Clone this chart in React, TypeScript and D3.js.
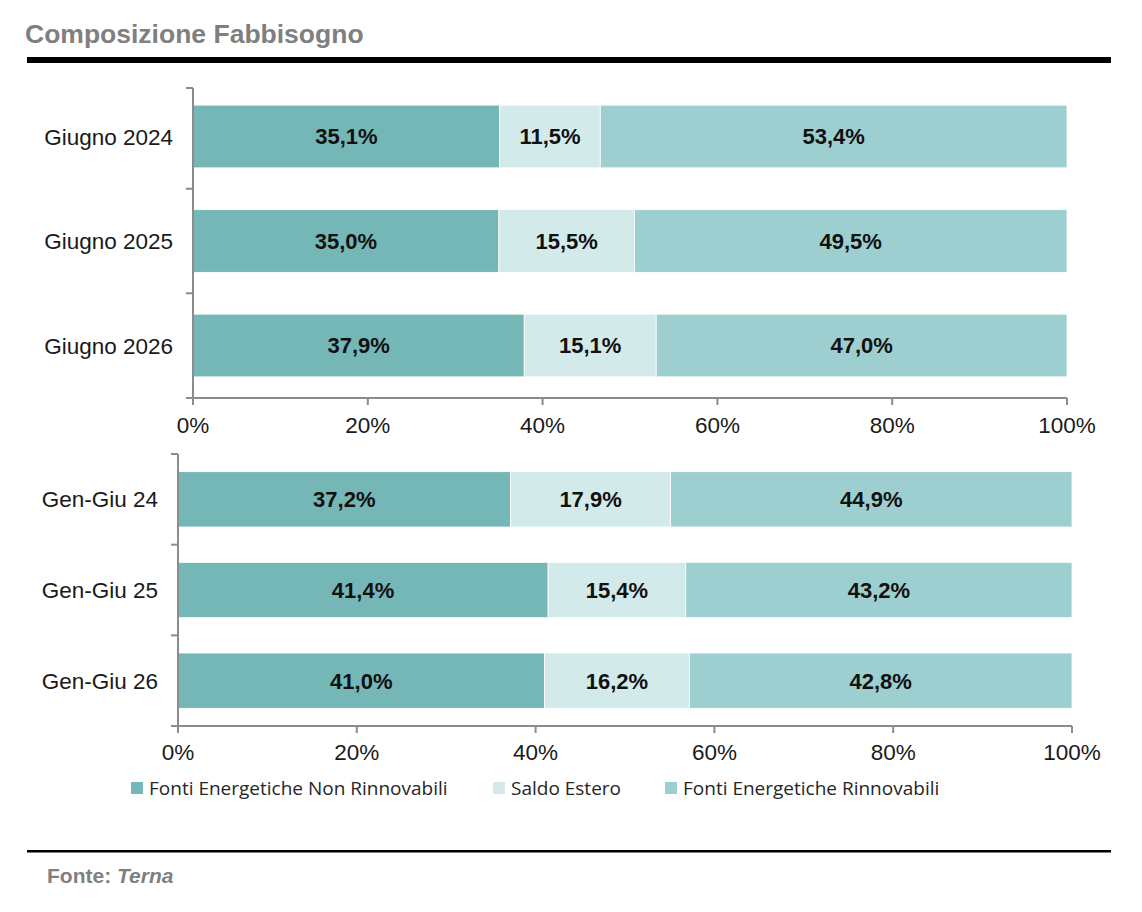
import React from "react";
import * as d3 from "d3";

const topCategories = ["Giugno 2024", "Giugno 2025", "Giugno 2026"];
const topNonRinnovabili = [35.1, 35.0, 37.9];
const topSaldoEstero = [11.5, 15.5, 15.1];
const topRinnovabili = [53.4, 49.5, 47.0];

const bottomCategories = ["Gen-Giu 24", "Gen-Giu 25", "Gen-Giu 26"];
const bottomNonRinnovabili = [37.2, 41.4, 41.0];
const bottomSaldoEstero = [17.9, 15.4, 16.2];
const bottomRinnovabili = [44.9, 43.2, 42.8];

const xTicks = [0, 20, 40, 60, 80, 100];
const seriesNames = [
  "Fonti Energetiche Non Rinnovabili",
  "Saldo Estero",
  "Fonti Energetiche Rinnovabili",
];
const seriesColors = ["#74B7B6", "#D3EAEA", "#9DCFD0"];

const W = 1142;
const H = 912;

type PanelProps = {
  categories: string[];
  series: number[][];
  x0: number;
  x1: number;
  y0: number;
  y1: number;
  bandEnd: number;
  paddingInner: number;
  paddingOuter: number;
  tickLabelY: number;
};

function fmt(v: number) {
  return v.toFixed(1).replace(".", ",") + "%";
}

const ARIAL = "'Liberation Sans', Arial, sans-serif";

function Panel({ categories, series, x0, x1, y0, y1, bandEnd, paddingInner, paddingOuter, tickLabelY }: PanelProps) {
  const x = d3.scaleLinear().domain([0, 100]).range([x0, x1]);
  const y = d3.scaleBand<string>().domain(categories).range([y0, bandEnd]).paddingInner(paddingInner).paddingOuter(paddingOuter);
  const rows = categories.map((c, i) => series.map((s) => s[i]));
  const stackData = categories.map((c, i) => {
    const o: any = { cat: c };
    series.forEach((s, k) => (o["s" + k] = s[i]));
    return o;
  });
  const stack = d3.stack<any>().keys(series.map((_, k) => "s" + k))(stackData);
  const axisColor = "#8C8C8C";
  const bw = y.bandwidth();
  const mids = categories.slice(0, -1).map((c, i) => {
    const a = (y(c) as number) + bw;
    const b = y(categories[i + 1]) as number;
    return (a + b) / 2;
  });
  const boundaries = [y0, ...mids, y1];
  return (
    <g>
      {stack.map((layer, k) =>
        layer.map((d, i) => {
          const xa = x(d[0]);
          const xb = x(d[1]);
          const yy = y(categories[i]) as number;
          return (
            <g key={k + "-" + i}>
              <rect x={xa} y={yy} width={xb - xa} height={bw} fill={seriesColors[k]} stroke="#ffffff" strokeWidth={0.8} />
              <text
                x={(xa + xb) / 2}
                y={yy + bw / 2}
                dy="0.36em"
                textAnchor="middle"
                fontFamily={ARIAL}
                fontWeight="bold"
                fontSize={22}
                fill="#111"
              >
                {fmt(rows[i][k])}
              </text>
            </g>
          );
        })
      )}
      <line x1={x0} x2={x0} y1={y0} y2={y1} stroke={axisColor} strokeWidth={2} />
      {boundaries.map((b, i) => (
        <line key={"yt" + i} x1={x0 - 7} x2={x0} y1={b} y2={b} stroke={axisColor} strokeWidth={2} />
      ))}
      {categories.map((c) => (
        <text
          key={c}
          x={x0 - 20}
          y={(y(c) as number) + bw / 2}
          dy="0.36em"
          textAnchor="end"
          fontFamily={ARIAL}
          fontSize={22.5}
          fill="#1a1a1a"
        >
          {c}
        </text>
      ))}
      <line x1={x0} x2={x1} y1={y1} y2={y1} stroke={axisColor} strokeWidth={2} />
      {xTicks.map((t) => (
        <g key={"xt" + t}>
          <line x1={x(t)} x2={x(t)} y1={y1} y2={y1 + 7} stroke={axisColor} strokeWidth={2} />
          <text x={x(t)} y={tickLabelY} textAnchor="middle" fontFamily={ARIAL} fontSize={22.5} fill="#1a1a1a">
            {t + "%"}
          </text>
        </g>
      ))}
    </g>
  );
}

export default function App() {
  const legendX = [131, 493, 665];
  return (
    <div style={{ position: "absolute", left: 0, top: 0 }}>
      <svg width={W} height={H} viewBox={`0 0 ${W} ${H}`} style={{ display: "block", background: "#fff" }}>
        <text x={25} y={43} fontFamily={ARIAL} fontWeight="bold" fontSize={26.5} fill="#7F7F7F">
          Composizione Fabbisogno
        </text>
        <rect x={27} y={57} width={1084} height={6} fill="#000" />

        <Panel
          categories={topCategories}
          series={[topNonRinnovabili, topSaldoEstero, topRinnovabili]}
          x0={193}
          x1={1067}
          y0={88}
          y1={398}
          bandEnd={394}
          paddingInner={0.4}
          paddingOuter={0.164}
          tickLabelY={433}
        />
        <Panel
          categories={bottomCategories}
          series={[bottomNonRinnovabili, bottomSaldoEstero, bottomRinnovabili]}
          x0={178}
          x1={1072}
          y0={454}
          y1={726}
          bandEnd={726}
          paddingInner={0.39}
          paddingOuter={0.195}
          tickLabelY={760}
        />

        {seriesNames.map((n, k) => (
          <g key={n}>
            <rect x={legendX[k]} y={782} width={12} height={12} fill={seriesColors[k]} />
            <text x={legendX[k] + 18} y={795} fontFamily="'Open Sans', sans-serif" fontSize={19} fill="#262626">
              {n}
            </text>
          </g>
        ))}

        <rect x={27} y={850} width={1084} height={2.5} fill="#000" />
        <text x={47} y={883} fontFamily={ARIAL} fontWeight="bold" fontSize={21} fill="#7F7F7F">
          Fonte: <tspan fontStyle="italic">Terna</tspan>
        </text>
      </svg>
    </div>
  );
}
